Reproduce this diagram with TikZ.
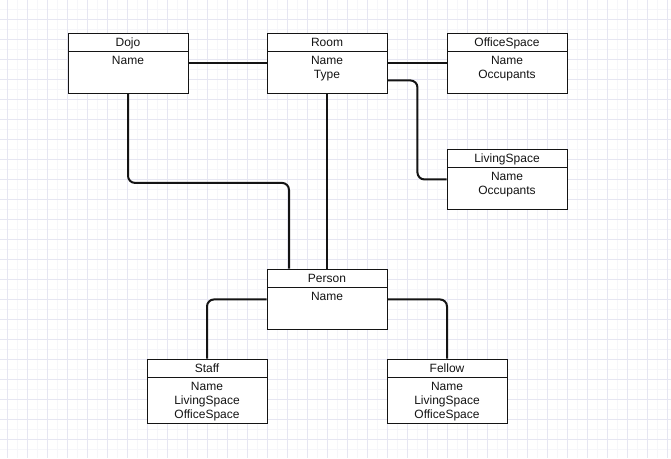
\documentclass[tikz,border=0pt]{standalone}
\usepackage{fontspec}
\setmainfont{Liberation Sans}
\definecolor{gridcol}{RGB}{230,230,242}
\definecolor{subgrid}{RGB}{246,246,250}
\definecolor{inkcol}{RGB}{20,20,20}
\tikzset{
  hd/.style={draw=inkcol, fill=white, line width=0.9pt, minimum width=120pt,
    minimum height=18pt, inner sep=0pt, text height=9pt, text depth=0pt},
  bd/.style={draw=inkcol, fill=white, line width=0.9pt, minimum width=120pt,
    minimum height=42pt, inner sep=0pt, anchor=north},
  fields/.style={label={[anchor=north, align=center, inner sep=5pt]north:{#1}}},
  link/.style={draw=inkcol, line width=2pt, rounded corners=7pt},
}
\begin{document}
\begin{tikzpicture}[x=1pt, y=-1pt, font=\fontsize{12}{14}\selectfont, text=inkcol]
  \useasboundingbox (0,0) rectangle (671,458);
  \fill[white] (0,0) rectangle (671,458);

  % grid
  \foreach \x in {17,37,...,667} \draw[subgrid, line width=0.5pt] (\x,0) -- (\x,458);
  \foreach \y in {9,29,...,449} \draw[subgrid, line width=0.5pt] (0,\y) -- (671,\y);
  \foreach \x in {7,27,...,667} \draw[gridcol, line width=0.7pt] (\x,0) -- (\x,458);
  \foreach \y in {19,39,...,439} \draw[gridcol, line width=0.7pt] (0,\y) -- (671,\y);

  % classes
  \node[hd] (dojo) at (128,42) {Dojo};
  \node[bd, fields={Name}] (dojob) at (128,51) {};
  \node[hd] (room) at (327,42) {Room};
  \node[bd, fields={Name\\Type}] (roomb) at (327,51) {};
  \node[hd] (office) at (507,42) {OfficeSpace};
  \node[bd, fields={Name\\Occupants}] (officeb) at (507,51) {};
  \node[hd] (living) at (507,158) {LivingSpace};
  \node[bd, fields={Name\\Occupants}] (livingb) at (507,167) {};
  \node[hd] (person) at (327,278) {Person};
  \node[bd, fields={Name}] (personb) at (327,287) {};
  \node[hd] (staff) at (207,368) {Staff};
  \node[bd, minimum height=46pt, fields={Name\\LivingSpace\\OfficeSpace}] (staffb) at (207,377) {};
  \node[hd] (fellow) at (447,368) {Fellow};
  \node[bd, minimum height=46pt, fields={Name\\LivingSpace\\OfficeSpace}] (fellowb) at (447,377) {};

  % links
  \draw[link] ([yshift=9pt]dojob.east) -- ([yshift=9pt]roomb.west);
  \draw[link] ([yshift=9pt]roomb.east) -- ([yshift=9pt]officeb.west);
  \draw[link] ([yshift=-8pt]roomb.east) -- ++(30,0) |- ([yshift=9pt]livingb.west);
  \draw[link] (dojob.south) -- ++(0,89) -| ([xshift=-38pt]person.north);
  \draw[link] (roomb.south) -- (person.north);
  \draw[link] ([yshift=9pt]personb.west) -| (staff.north);
  \draw[link] ([yshift=9pt]personb.east) -| (fellow.north);
\end{tikzpicture}
\end{document}
